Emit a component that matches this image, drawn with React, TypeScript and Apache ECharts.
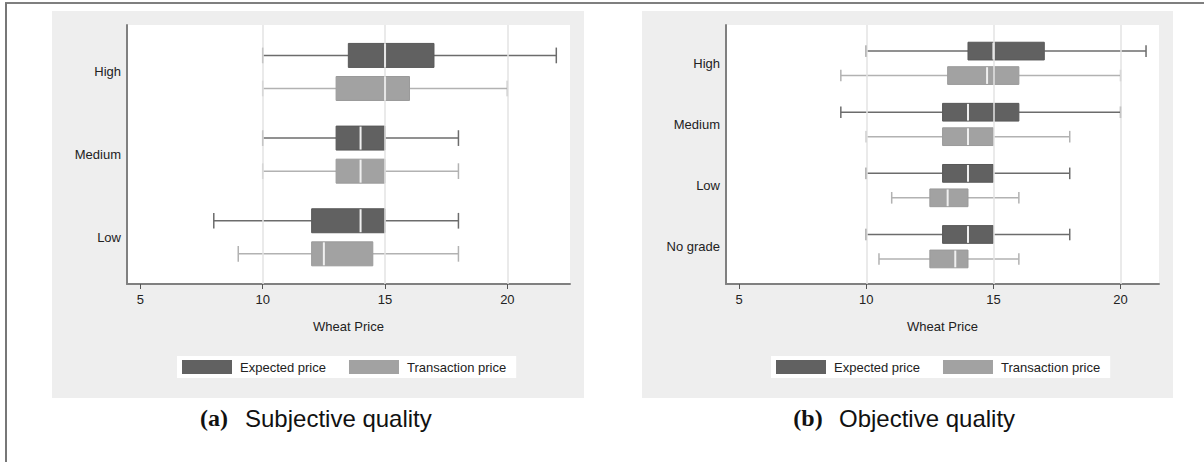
import React, { useEffect, useRef } from "react";
import * as echarts from "echarts";

// ---------- data ----------
const subjCategories = ["High", "Medium", "Low"];
const objCategories = ["High", "Medium", "Low", "No grade"];
const seriesNames = ["Expected price", "Transaction price"];
// each row: [min, Q1, median, Q3, max]
const subjExpected = [
  [10, 13.5, 15, 17, 22],
  [10, 13, 14, 15, 18],
  [8, 12, 14, 15, 18],
];
const subjTransaction = [
  [10, 13, 15, 16, 20],
  [10, 13, 14, 15, 18],
  [9, 12, 12.5, 14.5, 18],
];
const objExpected = [
  [10, 14, 15, 17, 21],
  [9, 13, 14, 16, 20],
  [10, 13, 14, 15, 18],
  [10, 13, 14, 15, 18],
];
const objTransaction = [
  [9, 13.2, 14.75, 16, 20],
  [10, 13, 14, 15, 18],
  [11, 12.5, 13.2, 14, 16],
  [10.5, 12.5, 13.5, 14, 16],
];
const xTicks = [5, 10, 15, 20];
const gridValues = [10, 15, 20];
const xTitle = "Wheat Price";
const captionLetters = ["(a)", "(b)"];
const captionTexts = ["Subjective quality", "Objective quality"];

// ---------- styles ----------
const FONT = '"Liberation Sans", Arial, sans-serif';
const FILLS = ["#616161", "#a2a2a2"];
const STROKES = ["#585858", "#9a9a9a"];
const WHISKERS = ["#6c6c6c", "#b2b2b2"];
const BOX_HALF = 0.145;
const OFFSET = 0.2;
const CAP_HALF = 0.095;

function boxRenderer(offset: number, idx: number) {
  return (params: any, api: any) => {
    const cat = api.value(0);
    const lo = api.value(1);
    const q1 = api.value(2);
    const med = api.value(3);
    const q3 = api.value(4);
    const hi = api.value(5);
    const yc = cat + offset;
    const pt = (x: number, y: number) => api.coord([x, y]);
    const pLo = pt(lo, yc);
    const pHi = pt(hi, yc);
    const ym = pLo[1];
    const c1 = pt(lo, yc - CAP_HALF)[1];
    const c2 = pt(lo, yc + CAP_HALF)[1];
    const capT = Math.min(c1, c2);
    const capB = Math.max(c1, c2);
    const b1 = pt(q1, yc - BOX_HALF)[1];
    const b2 = pt(q1, yc + BOX_HALF)[1];
    const bT = Math.min(b1, b2);
    const bH = Math.abs(b2 - b1);
    const xq1 = pt(q1, yc)[0];
    const xq3 = pt(q3, yc)[0];
    const xm = pt(med, yc)[0];
    const wStyle = { stroke: WHISKERS[idx], lineWidth: 1.5 };
    return {
      type: "group",
      children: [
        { type: "line", shape: { x1: pLo[0], y1: ym, x2: xq1, y2: ym }, style: wStyle },
        { type: "line", shape: { x1: xq3, y1: ym, x2: pHi[0], y2: ym }, style: wStyle },
        { type: "line", shape: { x1: pLo[0], y1: capT, x2: pLo[0], y2: capB }, style: wStyle },
        { type: "line", shape: { x1: pHi[0], y1: capT, x2: pHi[0], y2: capB }, style: wStyle },
        {
          type: "rect",
          shape: { x: xq1, y: bT, width: xq3 - xq1, height: bH },
          style: { fill: FILLS[idx], stroke: STROKES[idx], lineWidth: 1 },
        },
        {
          type: "line",
          shape: { x1: xm, y1: bT + 0.5, x2: xm, y2: bT + bH - 0.5 },
          style: { stroke: "#f0f0f0", lineWidth: 2 },
        },
      ],
    };
  };
}

function toData(rows: number[][]) {
  return rows.map((r, i) => [i, ...r]);
}

function xAxisCfg(gridIndex: number, min: number, max: number) {
  return {
    type: "value",
    gridIndex,
    min,
    max,
    axisLine: { show: true, onZero: false, lineStyle: { color: "#808080", width: 2 } },
    axisTick: { show: true, customValues: xTicks, length: 5, lineStyle: { color: "#555", width: 1 } },
    axisLabel: { customValues: xTicks, fontSize: 13, color: "#222", fontFamily: FONT, margin: 9 },
    splitLine: { show: false },
    name: xTitle,
    nameLocation: "middle",
    nameGap: 36,
    nameTextStyle: { fontSize: 13, color: "#222", fontFamily: FONT },
  };
}

function yAxisCfg(gridIndex: number, cats: string[], min: number, max: number) {
  return {
    type: "value",
    gridIndex,
    inverse: true,
    min,
    max,
    axisLine: { show: true, onZero: false, lineStyle: { color: "#808080", width: 2 } },
    axisTick: { show: false },
    axisLabel: {
      customValues: cats.map((_, i) => i),
      formatter: (v: number) => cats[Math.round(v)] ?? "",
      fontSize: 13,
      color: "#222",
      fontFamily: FONT,
      margin: 6,
    },
    splitLine: { show: false },
  };
}

function gridLineSeries(idx: number) {
  return {
    type: "line",
    xAxisIndex: idx,
    yAxisIndex: idx,
    data: [],
    z: 1,
    silent: true,
    markLine: {
      silent: true,
      symbol: ["none", "none"],
      label: { show: false },
      emphasis: { disabled: true },
      lineStyle: { color: "#e3e3e3", width: 1.5, type: "solid" },
      data: gridValues.map((v) => ({ xAxis: v })),
    },
  };
}

function boxSeries(idx: number, axisIdx: number, rows: number[][]) {
  return {
    type: "custom",
    name: seriesNames[idx],
    xAxisIndex: axisIdx,
    yAxisIndex: axisIdx,
    z: 3,
    itemStyle: { color: FILLS[idx] },
    encode: { x: [1, 2, 3, 4, 5], y: 0 },
    renderItem: boxRenderer(idx === 0 ? -OFFSET : OFFSET, idx),
    data: toData(rows),
  };
}

function legendCfg(left: number) {
  return {
    left,
    top: 356,
    orient: "horizontal",
    backgroundColor: "#ffffff",
    padding: [4, 10, 4, 5],
    itemWidth: 50,
    itemHeight: 14,
    itemGap: 23,
    selectedMode: false,
    textStyle: { fontSize: 13, color: "#222", fontFamily: FONT, padding: [0, 0, 0, 3] },
    data: seriesNames.map((n, i) => ({
      name: n,
      icon: "rect",
      itemStyle: { color: FILLS[i], borderWidth: 0 },
    })),
  };
}

export default function App() {
  const ref = useRef<HTMLDivElement>(null);

  useEffect(() => {
    document.body.style.margin = "0";
    if (!ref.current) return;
    const chart = echarts.init(ref.current, undefined, { renderer: "svg" });
    const option: any = {
      animation: false,
      backgroundColor: "#ffffff",
      graphic: [
        { type: "rect", z: -10, shape: { x: 52, y: 11, width: 532, height: 387 }, style: { fill: "#eeeeee" } },
        { type: "rect", z: -10, shape: { x: 642, y: 11, width: 531, height: 387 }, style: { fill: "#eeeeee" } },
        { type: "line", z: 10, shape: { x1: 5, y1: 3, x2: 1204, y2: 3 }, style: { stroke: "#555", lineWidth: 1.5 } },
        { type: "line", z: 10, shape: { x1: 6, y1: 3, x2: 6, y2: 462 }, style: { stroke: "#777", lineWidth: 2 } },
        {
          type: "text",
          x: 214,
          y: 418,
          style: { text: captionLetters[0], font: 'bold 24px "Liberation Serif", serif', fill: "#111", textAlign: "center", textVerticalAlign: "middle" },
        },
        {
          type: "text",
          x: 245,
          y: 418,
          style: { text: captionTexts[0], font: '24px "Liberation Sans", Arial, sans-serif', fill: "#111", textAlign: "left", textVerticalAlign: "middle" },
        },
        {
          type: "text",
          x: 808,
          y: 418,
          style: { text: captionLetters[1], font: 'bold 24px "Liberation Serif", serif', fill: "#111", textAlign: "center", textVerticalAlign: "middle" },
        },
        {
          type: "text",
          x: 839,
          y: 418,
          style: { text: captionTexts[1], font: '24px "Liberation Sans", Arial, sans-serif', fill: "#111", textAlign: "left", textVerticalAlign: "middle" },
        },
      ],
      grid: [
        { left: 127, top: 25, width: 443, height: 259, show: true, backgroundColor: "#ffffff", borderWidth: 0 },
        { left: 726, top: 25, width: 433, height: 259, show: true, backgroundColor: "#ffffff", borderWidth: 0 },
      ],
      xAxis: [xAxisCfg(0, 4.453, 22.56), xAxisCfg(1, 4.485, 21.51)],
      yAxis: [yAxisCfg(0, subjCategories, -0.568, 2.565), yAxisCfg(1, objCategories, -0.627, 3.61)],
      legend: [legendCfg(177), legendCfg(771)],
      series: [
        gridLineSeries(0),
        gridLineSeries(1),
        boxSeries(0, 0, subjExpected),
        boxSeries(1, 0, subjTransaction),
        boxSeries(0, 1, objExpected),
        boxSeries(1, 1, objTransaction),
      ],
    };
    chart.setOption(option);
    return () => chart.dispose();
  }, []);

  return <div ref={ref} style={{ width: 1204, height: 462 }} />;
}
